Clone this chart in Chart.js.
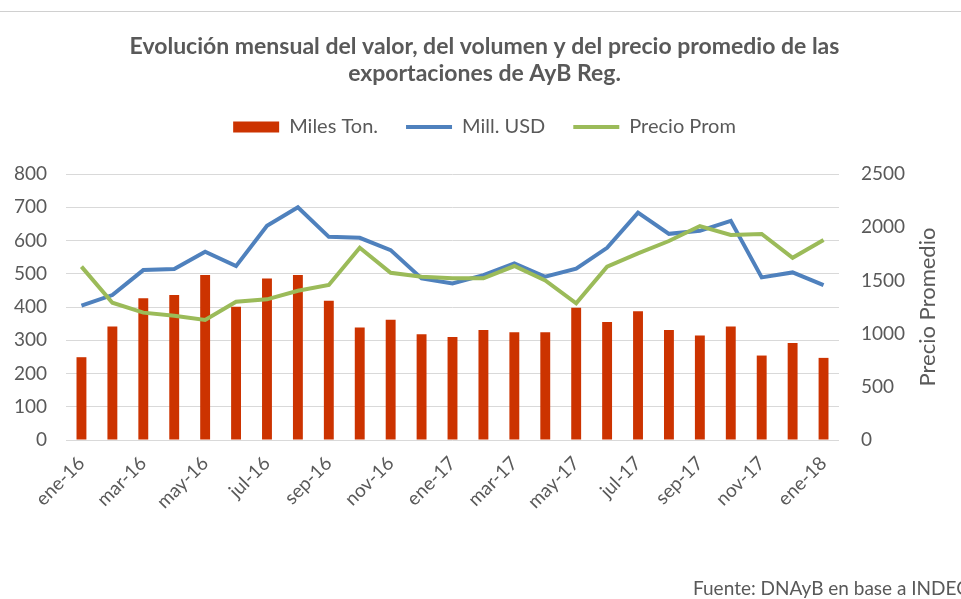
<!DOCTYPE html>
<html>
<head>
<meta charset="utf-8">
<script src="https://cdn.jsdelivr.net/npm/chart.js@4.4.1/dist/chart.umd.min.js"></script>
<style>
  html, body { margin: 0; padding: 0; background: #fff; overflow: hidden; }
  #wrap { position: relative; width: 961px; height: 599px; }
  #topline { position: absolute; left: 0; top: 11px; width: 961px; height: 0; border-top: 1px solid #d0d0d0; }
  #c { position: absolute; left: 0; top: 0; }
  #fuente { position: absolute; left: 693px; top: 576px; font-family: Lato, sans-serif; font-size: 19px; color: #595959; white-space: nowrap; line-height: 24px; }
</style>
</head>
<body>
<div id="wrap">
  <div id="topline"></div>
  <canvas id="c" width="961" height="599"></canvas>
  <div id="fuente">Fuente: DNAyB en base a INDEC</div>
</div>
<script>
// Categories (monthly)
const months = ["ene-16","feb-16","mar-16","abr-16","may-16","jun-16","jul-16","ago-16","sep-16","oct-16","nov-16","dic-16",
                "ene-17","feb-17","mar-17","abr-17","may-17","jun-17","jul-17","ago-17","sep-17","oct-17","nov-17","dic-17","ene-18"];
// Miles Ton. (bars, left axis)
const milesTon = [249, 341, 426, 436, 496, 401, 486, 496, 419, 338, 362, 318,
                  310, 331, 324, 324, 398, 355, 387, 331, 314, 341, 254, 292, 247];
// Mill. USD (line, left axis)
const millUSD = [404, 436, 511, 514, 566, 523, 644, 700, 611, 608, 571, 486,
                 471, 496, 531, 491, 515, 578, 684, 620, 629, 659, 489, 504, 466];
// Precio Prom (line, right axis)
const precioProm = [1629, 1290, 1197, 1168, 1128, 1300, 1322, 1403, 1457, 1807, 1572, 1535,
                    1520, 1520, 1635, 1500, 1285, 1629, 1754, 1870, 2011, 1927, 1936, 1713, 1880];
// Axis ranges
const leftMax = 800, leftStep = 100;
const rightMax = 2500, rightStep = 500;

const GRAY = '#595959';

const rightTitlePlugin = {
  id: 'rightTitle',
  afterDraw(chart) {
    const ctx = chart.ctx;
    const a = chart.chartArea;
    ctx.save();
    ctx.translate(928, (a.top + a.bottom) / 2);
    ctx.rotate(-Math.PI / 2);
    ctx.fillStyle = GRAY;
    ctx.font = '22px Lato';
    ctx.textAlign = 'center';
    ctx.textBaseline = 'middle';
    ctx.fillText('Precio Promedio', 0, 0);
    ctx.restore();
  }
};

new Chart(document.getElementById('c'), {
  data: {
    labels: months,
    datasets: [
      { type: 'line', label: 'Mill. USD', data: millUSD, yAxisID: 'y', borderColor: '#4F81BD', backgroundColor: '#4F81BD',
        borderWidth: 4, pointRadius: 0, tension: 0, order: 1 },
      { type: 'line', label: 'Precio Prom', data: precioProm, yAxisID: 'y2', borderColor: '#9BBB59', backgroundColor: '#9BBB59',
        borderWidth: 4, pointRadius: 0, tension: 0, order: 0 },
      { type: 'bar', label: 'Miles Ton.', data: milesTon, yAxisID: 'y', backgroundColor: '#CC3300', borderWidth: 0,
        barPercentage: 0.32, categoryPercentage: 1.0, order: 2 }
    ]
  },
  options: {
    responsive: false,
    animation: false,
    layout: { padding: { left: 8, right: 0, top: 0, bottom: 0 } },
    plugins: {
      title: {
        display: true,
        text: ['Evolución mensual del valor, del volumen y del precio promedio de las', 'exportaciones de AyB Reg.'],
        color: GRAY,
        font: { family: 'Lato', size: 23, weight: 'bold', lineHeight: '27px' },
        padding: { top: 33.5, bottom: 1.5 }
      },
      subtitle: {
        display: true,
        text: '',
        position: 'top',
        weight: 500,
        font: { size: 10, lineHeight: '10px' },
        padding: { top: 0, bottom: 17 }
      },
      legend: {
        position: 'top',
        weight: 1000,
        labels: {
          color: GRAY,
          font: { family: 'Lato', size: 20 },
          usePointStyle: true,
          pointStyleWidth: 46,
          boxHeight: 11,
          padding: 28,
          generateLabels(chart) {
            const order = ['Miles Ton.', 'Mill. USD', 'Precio Prom'];
            return chart.data.datasets.map((ds, i) => ({
              text: ds.label,
              fillStyle: ds.type === 'bar' ? ds.backgroundColor : ds.borderColor,
              strokeStyle: ds.type === 'bar' ? ds.backgroundColor : ds.borderColor,
              lineWidth: ds.type === 'bar' ? 0 : 4,
              pointStyle: ds.type === 'bar' ? 'rect' : 'line',
              fontColor: GRAY,
              hidden: false,
              datasetIndex: i
            })).sort((a, b) => order.indexOf(a.text) - order.indexOf(b.text));
          }
        }
      },
      tooltip: { enabled: false }
    },
    scales: {
      x: {
        grid: { display: false },
        border: { display: false },
        ticks: {
          color: GRAY,
          font: { family: 'Lato', size: 19 },
          maxRotation: 45, minRotation: 45,
          autoSkip: false,
          padding: 4,
          callback: function (v, i) { return i % 2 === 0 ? this.getLabelForValue(v) : ''; }
        },
        afterFit(s) { s.height = 159; }
      },
      y: {
        position: 'left',
        min: 0, max: leftMax,
        grid: { color: '#d9d9d9', lineWidth: 1, drawTicks: false },
        border: { display: false },
        ticks: { stepSize: leftStep, color: GRAY, font: { family: 'Lato', size: 19 }, padding: 19,
                 callback: (v) => String(v) },
        afterFit(s) { s.width = 58; }
      },
      y2: {
        position: 'right',
        min: 0, max: rightMax,
        grid: { display: false, drawTicks: false },
        border: { display: false },
        ticks: { stepSize: rightStep, color: GRAY, font: { family: 'Lato', size: 19 }, padding: 22,
                 callback: (v) => String(v) },
        afterFit(s) { s.width = 122; }
      }
    }
  },
  plugins: [rightTitlePlugin]
});
</script>
</body>
</html>
